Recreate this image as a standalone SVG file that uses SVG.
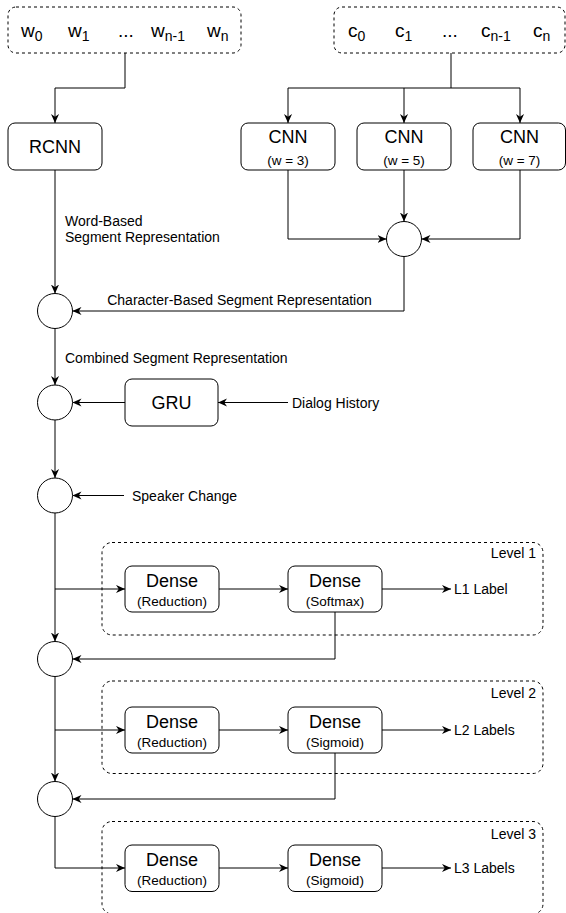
<svg xmlns="http://www.w3.org/2000/svg" width="566" height="913" viewBox="0 0 566 913">
<style>
text{font-family:"Liberation Sans",Arial,Helvetica,sans-serif;fill:#000}
.box{fill:#fff;stroke:#000;stroke-width:1}
.dash{fill:none;stroke:#000;stroke-width:1;stroke-dasharray:3 3}
.circ{fill:#fff;stroke:#000;stroke-width:1}
.ln{fill:none;stroke:#000;stroke-width:1}
.big{font-size:18px;text-anchor:middle}
.sm{font-size:13.5px;text-anchor:middle}
.lbl{font-size:14px}
.seq{font-size:19px}
.sub{font-size:14px}
.lvl{font-size:14px;text-anchor:end}
</style>
<defs>
<marker id="arr" viewBox="0 0 10 10" refX="10" refY="5" markerWidth="9" markerHeight="9" markerUnits="userSpaceOnUse" orient="auto">
<path d="M0,0.5 L10,5 L0,9.5 L3,5 Z" fill="#000"/>
</marker>
</defs>

<g id="level1"><rect class="dash" x="102" y="542.5" width="441" height="92.5" rx="10"/><text class="lvl" x="536" y="558">Level 1</text></g>
<g id="level2"><rect class="dash" x="102" y="681" width="441" height="92.5" rx="10"/><text class="lvl" x="536" y="698">Level 2</text></g>
<g id="level3"><rect class="dash" x="102" y="821.5" width="441" height="92.5" rx="10"/><text class="lvl" x="536" y="839">Level 3</text></g>

<g id="connectors">
<path class="ln" d="M125,53 V88 H55 V123" marker-end="url(#arr)"/>
<path class="ln" d="M451,53 V88"/>
<path class="ln" d="M288,88 H520"/>
<path class="ln" d="M288,88 V123" marker-end="url(#arr)"/>
<path class="ln" d="M404,88 V123" marker-end="url(#arr)"/>
<path class="ln" d="M520,88 V123" marker-end="url(#arr)"/>
<path class="ln" d="M288,170 V239 H386.5" marker-end="url(#arr)"/>
<path class="ln" d="M404,170 V221.5" marker-end="url(#arr)"/>
<path class="ln" d="M520,170 V239 H421.5" marker-end="url(#arr)"/>
<path class="ln" d="M55,170 V293.5" marker-end="url(#arr)"/>
<path class="ln" d="M404,256.5 V311 H72.5" marker-end="url(#arr)"/>
<path class="ln" d="M55,328.5 V385" marker-end="url(#arr)"/>
<path class="ln" d="M125,402.5 H72.5" marker-end="url(#arr)"/>
<path class="ln" d="M288,402.5 H218" marker-end="url(#arr)"/>
<path class="ln" d="M55,420 V478" marker-end="url(#arr)"/>
<path class="ln" d="M124,495.5 H72.5" marker-end="url(#arr)"/>
<path class="ln" d="M55,513 V641.5" marker-end="url(#arr)"/>
<path class="ln" d="M55,589 H125" marker-end="url(#arr)"/>
<path class="ln" d="M219,589 H288" marker-end="url(#arr)"/>
<path class="ln" d="M382,589 H451" marker-end="url(#arr)"/>
<path class="ln" d="M335,612 V659 H72.5" marker-end="url(#arr)"/>
<path class="ln" d="M55,676.5 V781.5" marker-end="url(#arr)"/>
<path class="ln" d="M55,730 H125" marker-end="url(#arr)"/>
<path class="ln" d="M219,730 H288" marker-end="url(#arr)"/>
<path class="ln" d="M382,730 H451" marker-end="url(#arr)"/>
<path class="ln" d="M335,753 V799 H72.5" marker-end="url(#arr)"/>
<path class="ln" d="M55,816.5 V868 H125" marker-end="url(#arr)"/>
<path class="ln" d="M219,868 H288" marker-end="url(#arr)"/>
<path class="ln" d="M382,868 H451" marker-end="url(#arr)"/>
<text class="lbl" x="65" y="226">Word-Based</text>
<text class="lbl" x="65" y="242">Segment Representation</text>
<text class="lbl" x="239.5" y="305" text-anchor="middle">Character-Based Segment Representation</text>
<text class="lbl" x="65" y="362.5">Combined Segment Representation</text>
<text class="lbl" x="292" y="407.5">Dialog History</text>
<text class="lbl" x="132" y="500.5">Speaker Change</text>
<text class="lbl" x="454" y="594">L1 Label</text>
<text class="lbl" x="454" y="735">L2 Labels</text>
<text class="lbl" x="454" y="873">L3 Labels</text>
</g>

<g id="words">
<rect class="dash" x="8" y="7" width="233" height="46" rx="8"/>
<text class="seq" x="21" y="37">w<tspan class="sub" dy="4">0</tspan></text>
<text class="seq" x="68" y="37">w<tspan class="sub" dy="4">1</tspan></text>
<text class="seq" x="118" y="37">...</text>
<text class="seq" x="151" y="37">w<tspan class="sub" dy="4">n-1</tspan></text>
<text class="seq" x="207" y="37">w<tspan class="sub" dy="4">n</tspan></text>
</g>
<g id="chars">
<rect class="dash" x="334" y="7" width="231" height="46" rx="8"/>
<text class="seq" x="348" y="37">c<tspan class="sub" dy="4">0</tspan></text>
<text class="seq" x="395" y="37">c<tspan class="sub" dy="4">1</tspan></text>
<text class="seq" x="442" y="37">...</text>
<text class="seq" x="481" y="37">c<tspan class="sub" dy="4">n-1</tspan></text>
<text class="seq" x="533" y="37">c<tspan class="sub" dy="4">n</tspan></text>
</g>

<g id="rcnn"><rect class="box" x="8" y="123" width="94" height="47" rx="7"/><text class="big" x="55" y="153">RCNN</text></g>
<g id="cnn3"><rect class="box" x="241" y="123" width="94" height="47" rx="7"/><text class="big" x="288" y="143">CNN</text><text class="sm" x="288" y="165">(w = 3)</text></g>
<g id="cnn5"><rect class="box" x="357" y="123" width="94" height="47" rx="7"/><text class="big" x="404" y="143">CNN</text><text class="sm" x="404" y="165">(w = 5)</text></g>
<g id="cnn7"><rect class="box" x="473" y="123" width="92.5" height="47" rx="7"/><text class="big" x="519.5" y="143">CNN</text><text class="sm" x="519.5" y="165">(w = 7)</text></g>

<g id="merge"><circle class="circ" cx="404" cy="239" r="17.5"/></g>
<g id="c1"><circle class="circ" cx="55" cy="311" r="17.5"/></g>
<g id="c2"><circle class="circ" cx="55" cy="402.5" r="17.5"/></g>
<g id="c3"><circle class="circ" cx="55" cy="495.5" r="17.5"/></g>
<g id="c4"><circle class="circ" cx="55" cy="659" r="17.5"/></g>
<g id="c5"><circle class="circ" cx="55" cy="799" r="17.5"/></g>

<g id="gru"><rect class="box" x="125" y="379" width="93" height="47" rx="7"/><text class="big" x="171.5" y="409">GRU</text></g>

<g id="d1a"><rect class="box" x="125" y="566" width="94" height="46" rx="7"/><text class="big" x="172" y="587">Dense</text><text class="sm" x="172" y="606">(Reduction)</text></g>
<g id="d1b"><rect class="box" x="288" y="566" width="94" height="46" rx="7"/><text class="big" x="335" y="587">Dense</text><text class="sm" x="335" y="606">(Softmax)</text></g>
<g id="d2a"><rect class="box" x="125" y="707" width="94" height="46" rx="7"/><text class="big" x="172" y="728">Dense</text><text class="sm" x="172" y="747">(Reduction)</text></g>
<g id="d2b"><rect class="box" x="288" y="707" width="94" height="46" rx="7"/><text class="big" x="335" y="728">Dense</text><text class="sm" x="335" y="747">(Sigmoid)</text></g>
<g id="d3a"><rect class="box" x="125" y="845" width="94" height="46.5" rx="7"/><text class="big" x="172" y="866">Dense</text><text class="sm" x="172" y="885">(Reduction)</text></g>
<g id="d3b"><rect class="box" x="288" y="845" width="94" height="46.5" rx="7"/><text class="big" x="335" y="866">Dense</text><text class="sm" x="335" y="885">(Sigmoid)</text></g>
</svg>
